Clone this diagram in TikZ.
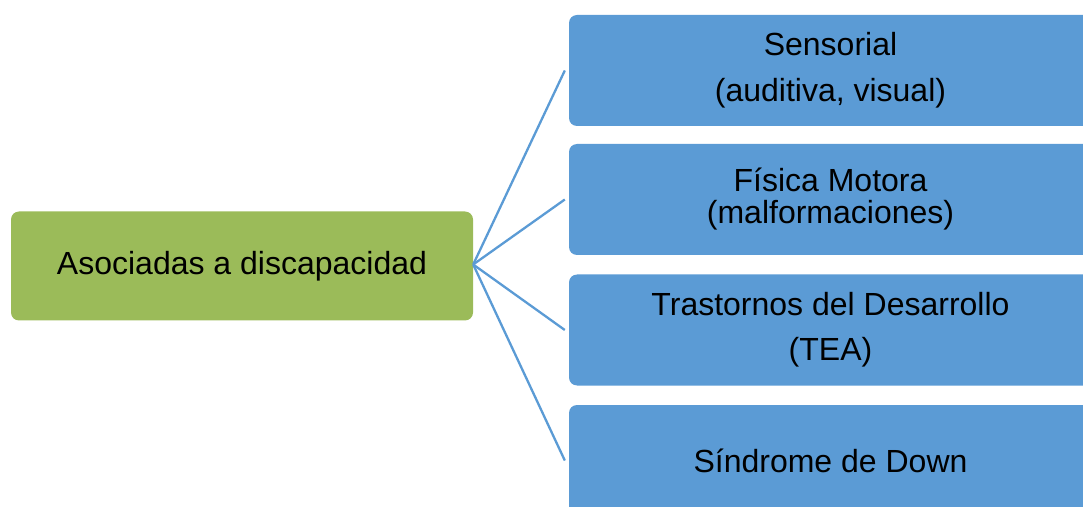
\documentclass[tikz,border=0pt]{standalone}
\usepackage{fontspec}
\setmainfont{Liberation Sans}
\usepackage{tikz}
\definecolor{verde}{HTML}{9BBB59}
\definecolor{azul}{HTML}{5B9BD5}

\begin{document}
\begin{tikzpicture}[x=1pt, y=1pt,
  caja/.style={draw=none, rounded corners=8pt, align=center, inner sep=0pt,
    font=\fontsize{32}{38}\selectfont},
  cajaverde/.style={caja, fill=verde, minimum width=462pt, minimum height=109pt},
  cajaazul/.style={caja, fill=azul, minimum width=523pt, minimum height=111pt},
  rama/.style={draw=azul, line width=2.3pt}]
% Asociadas a discapacidad y sus cuatro ramas
\useasboundingbox (0,0) rectangle (1083,506);
\clip (0,0) rectangle (1083,506);
\node[cajaverde] (asoc) at (242,240) {Asociadas a discapacidad};
\node[cajaazul] (sens) at (830.5,435.5) {Sensorial\\[8pt](auditiva, visual)};
\node[cajaazul] (fis) at (830.5,306.5) {Física Motora\\[-6pt](malformaciones)};
\node[cajaazul] (tras) at (830.5,176) {Trastornos del Desarrollo\\[7pt](TEA)};
\node[cajaazul] (sind) at (830.5,45.5) {Síndrome de Down};
\foreach \n in {sens,fis,tras,sind}
  \draw[rama] ([yshift=1.5pt]asoc.east) -- ([xshift=-4pt]\n.west);
\end{tikzpicture}
\end{document}
